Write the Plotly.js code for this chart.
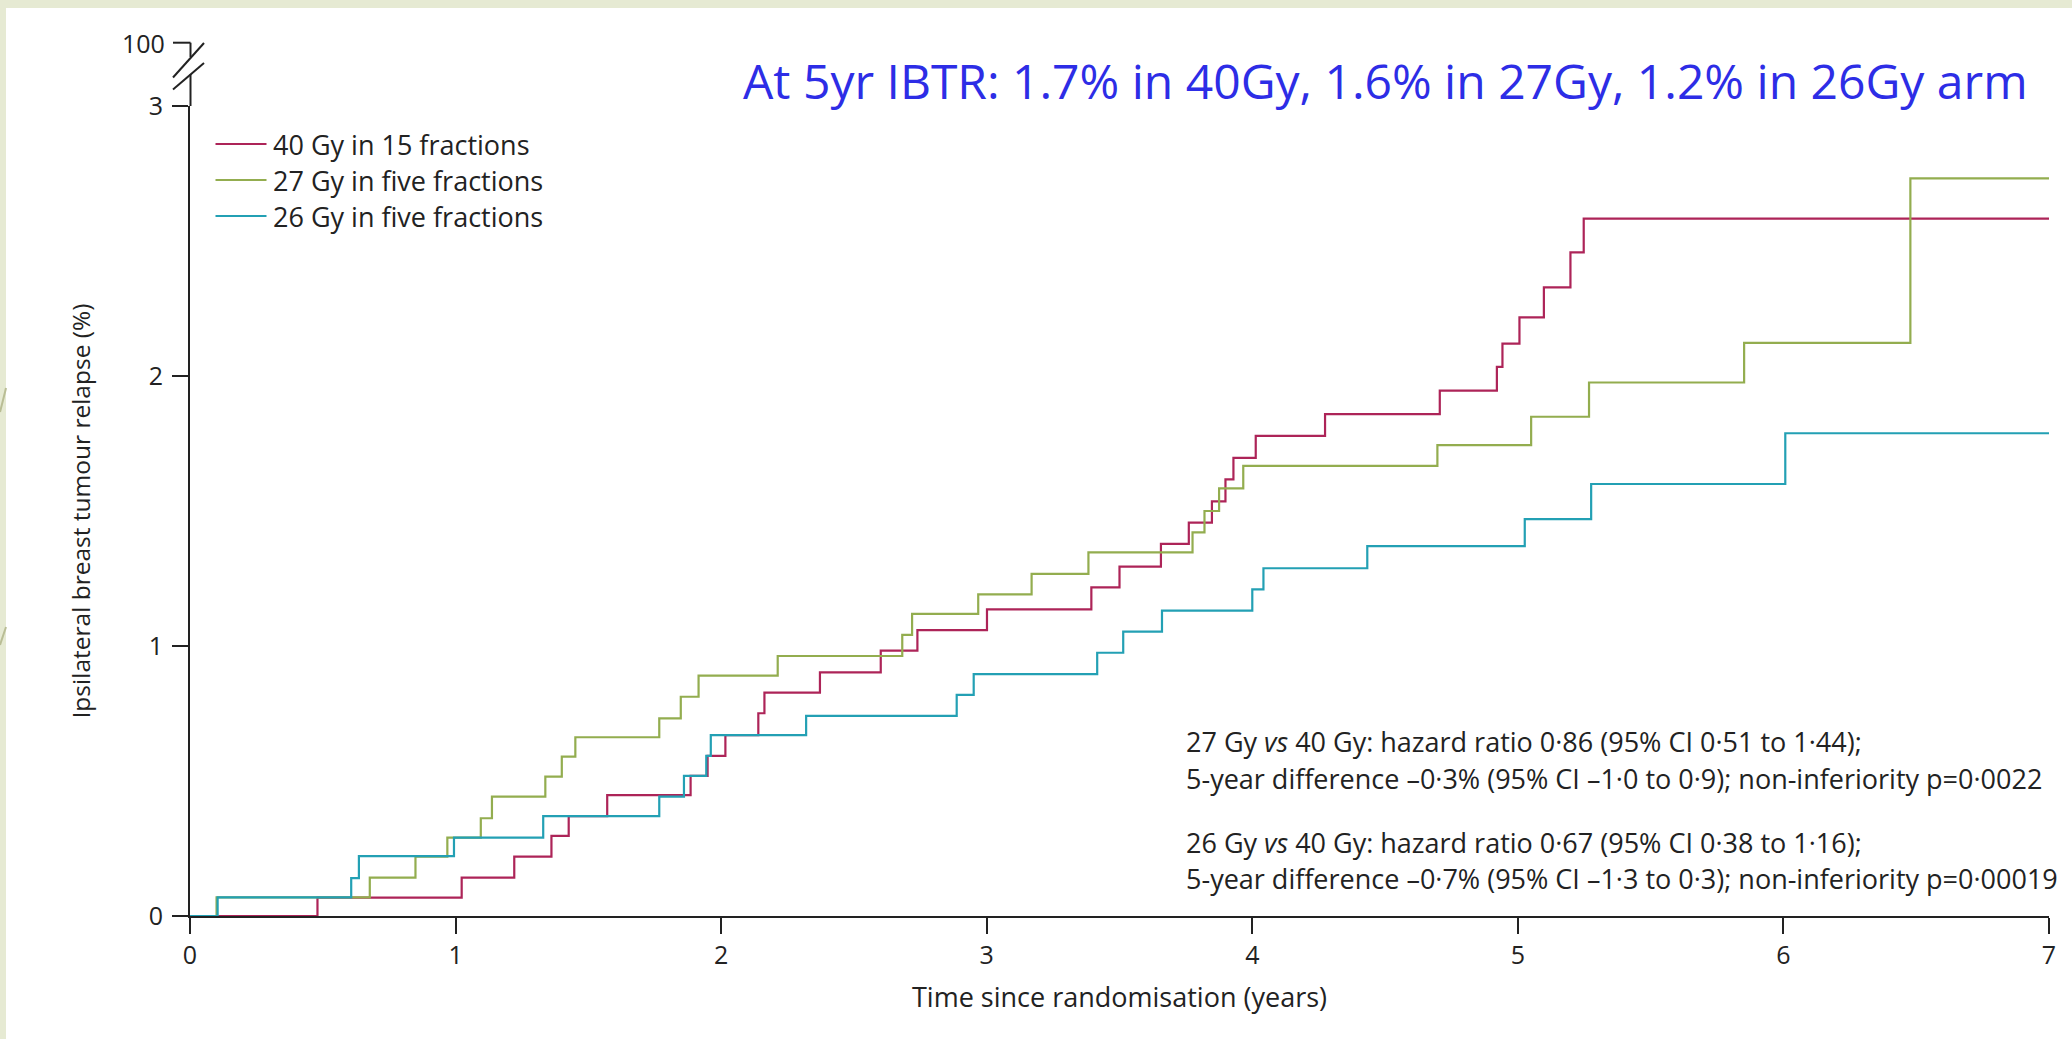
<!DOCTYPE html>
<html>
<head>
<meta charset="utf-8">
<script src="https://cdn.plot.ly/plotly-3.0.1.min.js"></script>
<style>html,body{margin:0;padding:0;background:#fff;}#chart{width:2072px;height:1039px;}</style>
</head>
<body>
<div id="chart"></div>
<script>
// ---- data ----
const seriesNames = ["40 Gy in 15 fractions", "27 Gy in five fractions", "26 Gy in five fractions"];

const t40 = [0, 0.48, 1.023, 1.221, 1.361, 1.426, 1.571, 1.885, 1.949, 2.016, 2.14, 2.163, 2.372, 2.601, 2.739, 3.001, 3.394, 3.5, 3.656, 3.761, 3.848, 3.899, 3.929, 4.013, 4.274, 4.706, 4.921, 4.942, 5.006, 5.098, 5.198, 5.248, 7];
const v40 = [0, 0.068, 0.142, 0.22, 0.297, 0.37, 0.448, 0.519, 0.593, 0.67, 0.751, 0.827, 0.902, 0.983, 1.059, 1.136, 1.217, 1.294, 1.378, 1.457, 1.536, 1.617, 1.697, 1.778, 1.859, 1.946, 2.034, 2.12, 2.217, 2.328, 2.458, 2.583, 2.583];

const t27 = [0, 0.1, 0.677, 0.849, 0.969, 1.095, 1.137, 1.338, 1.40, 1.451, 1.767, 1.848, 1.915, 2.213, 2.682, 2.719, 2.968, 3.169, 3.383, 3.775, 3.82, 3.875, 3.966, 4.697, 5.05, 5.268, 5.852, 6.478, 7];
const v27 = [0, 0.069, 0.142, 0.22, 0.29, 0.362, 0.442, 0.516, 0.59, 0.662, 0.732, 0.812, 0.89, 0.963, 1.041, 1.119, 1.191, 1.267, 1.347, 1.421, 1.5, 1.584, 1.667, 1.744, 1.849, 1.976, 2.123, 2.732, 2.732];

const t26 = [0, 0.104, 0.607, 0.636, 0.994, 1.33, 1.767, 1.86, 1.944, 1.961, 2.32, 2.887, 2.951, 3.416, 3.514, 3.66, 4.0, 4.042, 4.433, 5.026, 5.276, 6.007, 7];
const v26 = [0, 0.069, 0.14, 0.222, 0.29, 0.37, 0.442, 0.519, 0.593, 0.67, 0.741, 0.819, 0.896, 0.975, 1.053, 1.131, 1.21, 1.288, 1.37, 1.47, 1.6, 1.788, 1.788];

const xTickVals = [0, 1, 2, 3, 4, 5, 6, 7];
const yTickVals = [0, 1, 2, 3];
const brokenTopLabel = "100";

const headline = "At 5yr IBTR: 1.7% in 40Gy, 1.6% in 27Gy, 1.2% in 26Gy arm";
const statLines = [
  "27 Gy <i>vs</i> 40 Gy: hazard ratio 0·86 (95% CI 0·51 to 1·44);",
  "5-year difference –0·3% (95% CI –1·0 to 0·9); non-inferiority p=0·0022",
  "26 Gy <i>vs</i> 40 Gy: hazard ratio 0·67 (95% CI 0·38 to 1·16);",
  "5-year difference –0·7% (95% CI –1·3 to 0·3); non-inferiority p=0·00019"
];

// ---- styling ----
const colors = ["#ad2458", "#93ad4f", "#23a0b4"];
const FONT = "'Open Sans', Lato, sans-serif";
const AX = "#222222";
const TXT = "#222222";

// pixel -> paper helpers (plot area: x 190..2049, y 106..916)
const L = 190, R = 23, T = 106, B = 123, W = 2072, H = 1039;
const PW = W - L - R, PH = H - T - B;
const xp = px => (px - L) / PW;
const yp = py => (H - B - py) / PH;

const tSets = [t40, t27, t26];
const vSets = [v40, v27, v26];
const traces = tSets.map((t, i) => ({
  type: "scatter", mode: "lines", x: t, y: vSets[i], name: seriesNames[i],
  line: {shape: "hv", color: colors[i], width: 2.2}, showlegend: false, hoverinfo: "x+y+name"
}));

const shapes = [];
const annotations = [];

// slide-like background: light green border, white panel
shapes.push({type: "rect", xref: "paper", yref: "paper", x0: xp(6), x1: xp(W + 2), y0: yp(8), y1: yp(H + 2),
  fillcolor: "#ffffff", line: {width: 0}, layer: "below"});
// faint decorative strokes in the left strip
shapes.push({type: "line", xref: "paper", yref: "paper", x0: xp(0), y0: yp(412), x1: xp(6), y1: yp(388), line: {color: "#b9bd95", width: 2}});
shapes.push({type: "line", xref: "paper", yref: "paper", x0: xp(0), y0: yp(645), x1: xp(6), y1: yp(627), line: {color: "#b9bd95", width: 2}});

// y-axis continuation above 3 and the axis break
const axX = L + 0.5;
shapes.push({type: "line", xref: "paper", yref: "paper", x0: xp(axX), x1: xp(axX), y0: yp(T), y1: yp(74), line: {color: AX, width: 2}});
shapes.push({type: "line", xref: "paper", yref: "paper", x0: xp(axX), x1: xp(axX), y0: yp(57), y1: yp(42.7), line: {color: AX, width: 2}});
shapes.push({type: "line", xref: "paper", yref: "paper", x0: xp(173), x1: xp(axX), y0: yp(42.7), y1: yp(42.7), line: {color: AX, width: 2}});
shapes.push({type: "line", xref: "paper", yref: "paper", x0: xp(173), y0: yp(89.5), x1: xp(204), y1: yp(63), line: {color: AX, width: 2}});
shapes.push({type: "line", xref: "paper", yref: "paper", x0: xp(173), y0: yp(77.5), x1: xp(204), y1: yp(43), line: {color: AX, width: 2}});
annotations.push({xref: "paper", yref: "paper", x: xp(167), y: yp(43), xanchor: "right", yanchor: "middle",
  text: brokenTopLabel, showarrow: false, font: {family: FONT, size: 25, color: TXT}});

// custom legend
const legRows = [144, 180, 216];
seriesNames.forEach((n, i) => {
  shapes.push({type: "line", xref: "paper", yref: "paper", x0: xp(215.5), x1: xp(266.5), y0: yp(legRows[i]), y1: yp(legRows[i]),
    line: {color: colors[i], width: 2.2}});
  annotations.push({xref: "paper", yref: "paper", x: xp(271), y: yp(legRows[i]), xanchor: "left", yanchor: "middle",
    text: n, showarrow: false, font: {family: FONT, size: 27, color: TXT}});
});

// statistics text
const statY = [741, 778, 842, 878];
statLines.forEach((s, i) => {
  annotations.push({xref: "paper", yref: "paper", x: xp(1184), y: yp(statY[i]), xanchor: "left", yanchor: "middle",
    text: s, showarrow: false, font: {family: FONT, size: 27, color: TXT}});
});

// headline
annotations.push({xref: "paper", yref: "paper", x: xp(1385), y: yp(80), xanchor: "center", yanchor: "middle",
  text: headline, showarrow: false, font: {family: "'Open Sans', sans-serif", size: 48, color: "#2d2de6"}});

const layout = {
  width: W, height: H,
  margin: {l: L, r: R, t: T, b: B, pad: 0},
  paper_bgcolor: "#e6ead3",
  plot_bgcolor: "rgba(0,0,0,0)",
  showlegend: false,
  font: {family: FONT, size: 25, color: TXT},
  xaxis: {
    range: [0, 7], tickvals: xTickVals, ticks: "outside", ticklen: 16, tickwidth: 2, tickcolor: AX,
    showline: true, linecolor: AX, linewidth: 2, showgrid: false, zeroline: false, fixedrange: true,
    tickfont: {family: FONT, size: 25, color: TXT},
    title: {text: "Time since randomisation (years)", font: {family: FONT, size: 27, color: TXT}, standoff: 18}
  },
  yaxis: {
    range: [0, 3], tickvals: yTickVals, ticks: "outside", ticklen: 16, tickwidth: 2, tickcolor: AX,
    showline: true, linecolor: AX, linewidth: 2, showgrid: false, zeroline: false, fixedrange: true,
    ticklabelstandoff: 4,
    tickfont: {family: FONT, size: 25, color: TXT},
    title: {text: "Ipsilateral breast tumour relapse (%)", font: {family: FONT, size: 24.5, color: TXT}, standoff: 51}
  },
  shapes: shapes,
  annotations: annotations
};

Plotly.newPlot("chart", traces, layout, {displayModeBar: false, staticPlot: true});
</script>
</body>
</html>
